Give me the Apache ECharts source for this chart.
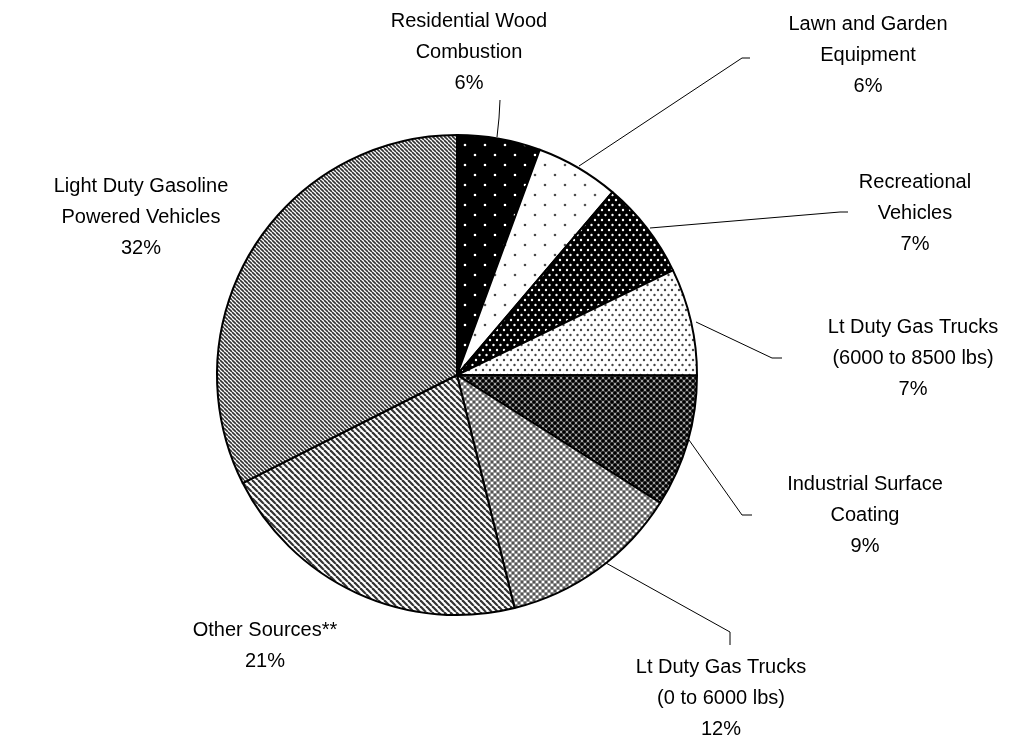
<!DOCTYPE html>
<html><head><meta charset="utf-8">
<script src="https://cdn.jsdelivr.net/npm/echarts@6/dist/echarts.min.js"></script>
<style>html,body{margin:0;padding:0;background:#fff}#c{width:1026px;height:748px}</style>
</head><body><div id="c"></div>
<script>
const categories = [
  'Residential Wood\nCombustion',
  'Lawn and Garden\nEquipment',
  'Recreational\nVehicles',
  'Lt Duty Gas Trucks\n(6000 to 8500 lbs)',
  'Industrial Surface\nCoating',
  'Lt Duty Gas Trucks\n(0 to 6000 lbs)',
  'Other Sources**',
  'Light Duty Gasoline\nPowered Vehicles'
];
const values = [5.6, 5.6, 6.6, 7.2, 8.9, 12.2, 21.4, 32.4];

function tile(w, h, draw) {
  const c = document.createElement('canvas');
  c.width = w; c.height = h;
  const g = c.getContext('2d');
  draw(g, w, h);
  return { image: c, repeat: 'repeat' };
}
function dots(g, pts, r, col) {
  g.fillStyle = col;
  pts.forEach(p => { g.beginPath(); g.arc(p[0], p[1], r, 0, Math.PI * 2); g.fill(); });
}
function lattice(w, h) {
  return [[0,0],[w,0],[0,h],[w,h],[w/2,h/2]];
}
function cross(w, h) {
  return [[w/2,0],[0,h/2],[w,h/2],[w/2,h]];
}
function stripes(s, lw, col, bg) {
  return tile(s, s, (g) => {
    g.fillStyle = bg; g.fillRect(0, 0, s, s);
    g.strokeStyle = col; g.lineWidth = lw;
    for (let k = -1; k <= 1; k++) {
      g.beginPath(); g.moveTo(k * s, 0); g.lineTo(k * s + s, s); g.stroke();
    }
  });
}
const patterns = [
  tile(20, 20, (g, w, h) => { g.fillStyle = '#000'; g.fillRect(0, 0, w, h); dots(g, [[5,5],[15,15]], 1.3, '#fff'); }),
  tile(20, 20, (g, w, h) => { g.fillStyle = '#fff'; g.fillRect(0, 0, w, h); dots(g, [[5,5],[15,15]], 1.3, '#555'); }),
  tile(7, 10, (g, w, h) => { g.fillStyle = '#000'; g.fillRect(0, 0, w, h); dots(g, lattice(w, h), 1.2, '#fff'); }),
  tile(7, 10, (g, w, h) => { g.fillStyle = '#fff'; g.fillRect(0, 0, w, h); dots(g, lattice(w, h), 1.2, '#444'); }),
  tile(6, 6, (g, w, h) => { g.fillStyle = '#555'; g.fillRect(0, 0, w, h); dots(g, lattice(w, h), 1.8, '#000'); dots(g, cross(w, h), 0.8, '#fff'); }),
  tile(6, 6, (g, w, h) => { g.fillStyle = '#999'; g.fillRect(0, 0, w, h); dots(g, lattice(w, h), 1.4, '#555'); dots(g, cross(w, h), 1.3, '#fff'); }),
  stripes(6, 2.2, '#333', '#fff'),
  stripes(4, 1.6, '#333', '#fff')
];

const labelPlace = [
  { x: 469, y: 52,  line: [[497,137],[499,118],[500,100]] },
  { x: 868, y: 55,  line: [[579,166],[742,58],[750,58]] },
  { x: 915, y: 213, line: [[650,228],[840,212],[848,212]] },
  { x: 913, y: 358, line: [[696,322],[772,358],[782,358]] },
  { x: 865, y: 515, line: [[689,440],[742,515],[752,515]] },
  { x: 721, y: 698, line: [[606,563],[730,632],[730,645]] },
  { x: 265, y: 646, line: null },
  { x: 141, y: 217, line: null }
];

const data = categories.map((name, i) => ({
  name: name,
  value: values[i],
  itemStyle: { color: patterns[i] },
  labelLine: { show: !!labelPlace[i].line }
}));

const chart = echarts.init(document.getElementById('c'));
chart.setOption({
  animation: false,
  backgroundColor: '#fff',
  series: [{
    type: 'pie',
    center: [457, 375],
    radius: 240,
    startAngle: 90,
    clockwise: true,
    avoidLabelOverlap: false,
    data: data,
    itemStyle: { borderColor: '#000', borderWidth: 2 },
    label: {
      show: true,
      position: 'outside',
      fontFamily: 'Liberation Sans, Arial, sans-serif',
      fontSize: 20,
      lineHeight: 31,
      color: '#000',
      align: 'center',
      formatter: p => p.name + '\n' + Math.round(p.percent) + '%'
    },
    labelLine: { show: true, lineStyle: { color: '#000', width: 1 }, length: 20, length2: 10 },
    labelLayout: function (p) {
      const L = labelPlace[p.dataIndex];
      const o = { x: L.x, y: L.y, align: 'center', verticalAlign: 'middle' };
      if (L.line) o.labelLinePoints = L.line;
      return o;
    },
    emphasis: { disabled: true }
  }]
});
</script>
</body></html>
